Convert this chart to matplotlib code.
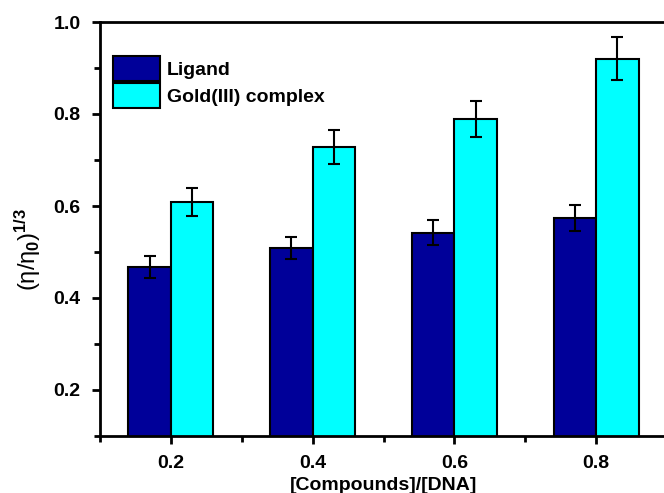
import matplotlib
matplotlib.use("Agg")
import matplotlib.pyplot as plt
import numpy as np
from matplotlib.ticker import MultipleLocator

plt.rcParams['font.family'] = ['Liberation Sans', 'DejaVu Sans']
plt.rcParams['font.weight'] = 'bold'
plt.rcParams['mathtext.fontset'] = 'custom'
plt.rcParams['mathtext.rm'] = 'Liberation Sans:weight=normal'
plt.rcParams['mathtext.it'] = 'Liberation Sans:weight=normal'
plt.rcParams['mathtext.bf'] = 'Liberation Sans:weight=bold'

ratios = [0.2, 0.4, 0.6, 0.8]
ligand = [0.467, 0.509, 0.542, 0.574]
ligand_err = [0.024, 0.024, 0.027, 0.029]
complex_vals = [0.609, 0.729, 0.789, 0.920]
complex_err = [0.031, 0.037, 0.039, 0.047]
series_names = ["Ligand", "Gold(III) complex"]

fig = plt.figure(figsize=(6.64, 4.93), dpi=100)
ax = fig.add_axes([100/664, 1 - 436/493, 567/664, 414/493])

x = np.array(ratios)
w = 0.06
ebar = dict(ecolor='black', elinewidth=1.5, capsize=4, capthick=1.5)
ax.bar(x - w/2, ligand, width=w, color='#000099', edgecolor='black',
       linewidth=1.5, yerr=ligand_err, error_kw=ebar, label=series_names[0], zorder=2)
ax.bar(x + w/2, complex_vals, width=w, color='#00FFFF', edgecolor='black',
       linewidth=1.5, yerr=complex_err, error_kw=ebar, label=series_names[1], zorder=2)

ax.set_xlim(0.1, 0.9)
ax.set_ylim(0.1, 1.0)
ax.set_xticks(ratios)
ax.set_xticklabels([f"{r:.1f}" for r in ratios])
ax.set_yticks([0.2, 0.4, 0.6, 0.8, 1.0])
ax.xaxis.set_minor_locator(MultipleLocator(0.1))
ax.yaxis.set_minor_locator(MultipleLocator(0.1))
ax.tick_params(which='major', direction='out', length=6, width=2, labelsize=14, pad=8)
ax.tick_params(which='minor', direction='out', length=4, width=2)
ax.tick_params(top=False, right=False, which='both')
for s in ax.spines.values():
    s.set_linewidth(2)

ax.set_xlabel("[Compounds]/[DNA]", fontsize=14, fontweight='bold', labelpad=3)
ax.set_ylabel(r"$(\eta/\eta_\mathbf{0})^\mathbf{1/3}$", fontsize=17, fontweight='normal')
ax.yaxis.set_label_coords(-0.100, 0.45)

leg = ax.legend(loc='upper left', bbox_to_anchor=(0.023, 0.918), frameon=False,
                fontsize=14, handlelength=2.4, handleheight=1.6,
                handletextpad=0.35, labelspacing=0.1, borderaxespad=0, borderpad=0)
for t in leg.get_texts():
    t.set_fontweight('bold')

fig.savefig("out.png", dpi=100)
